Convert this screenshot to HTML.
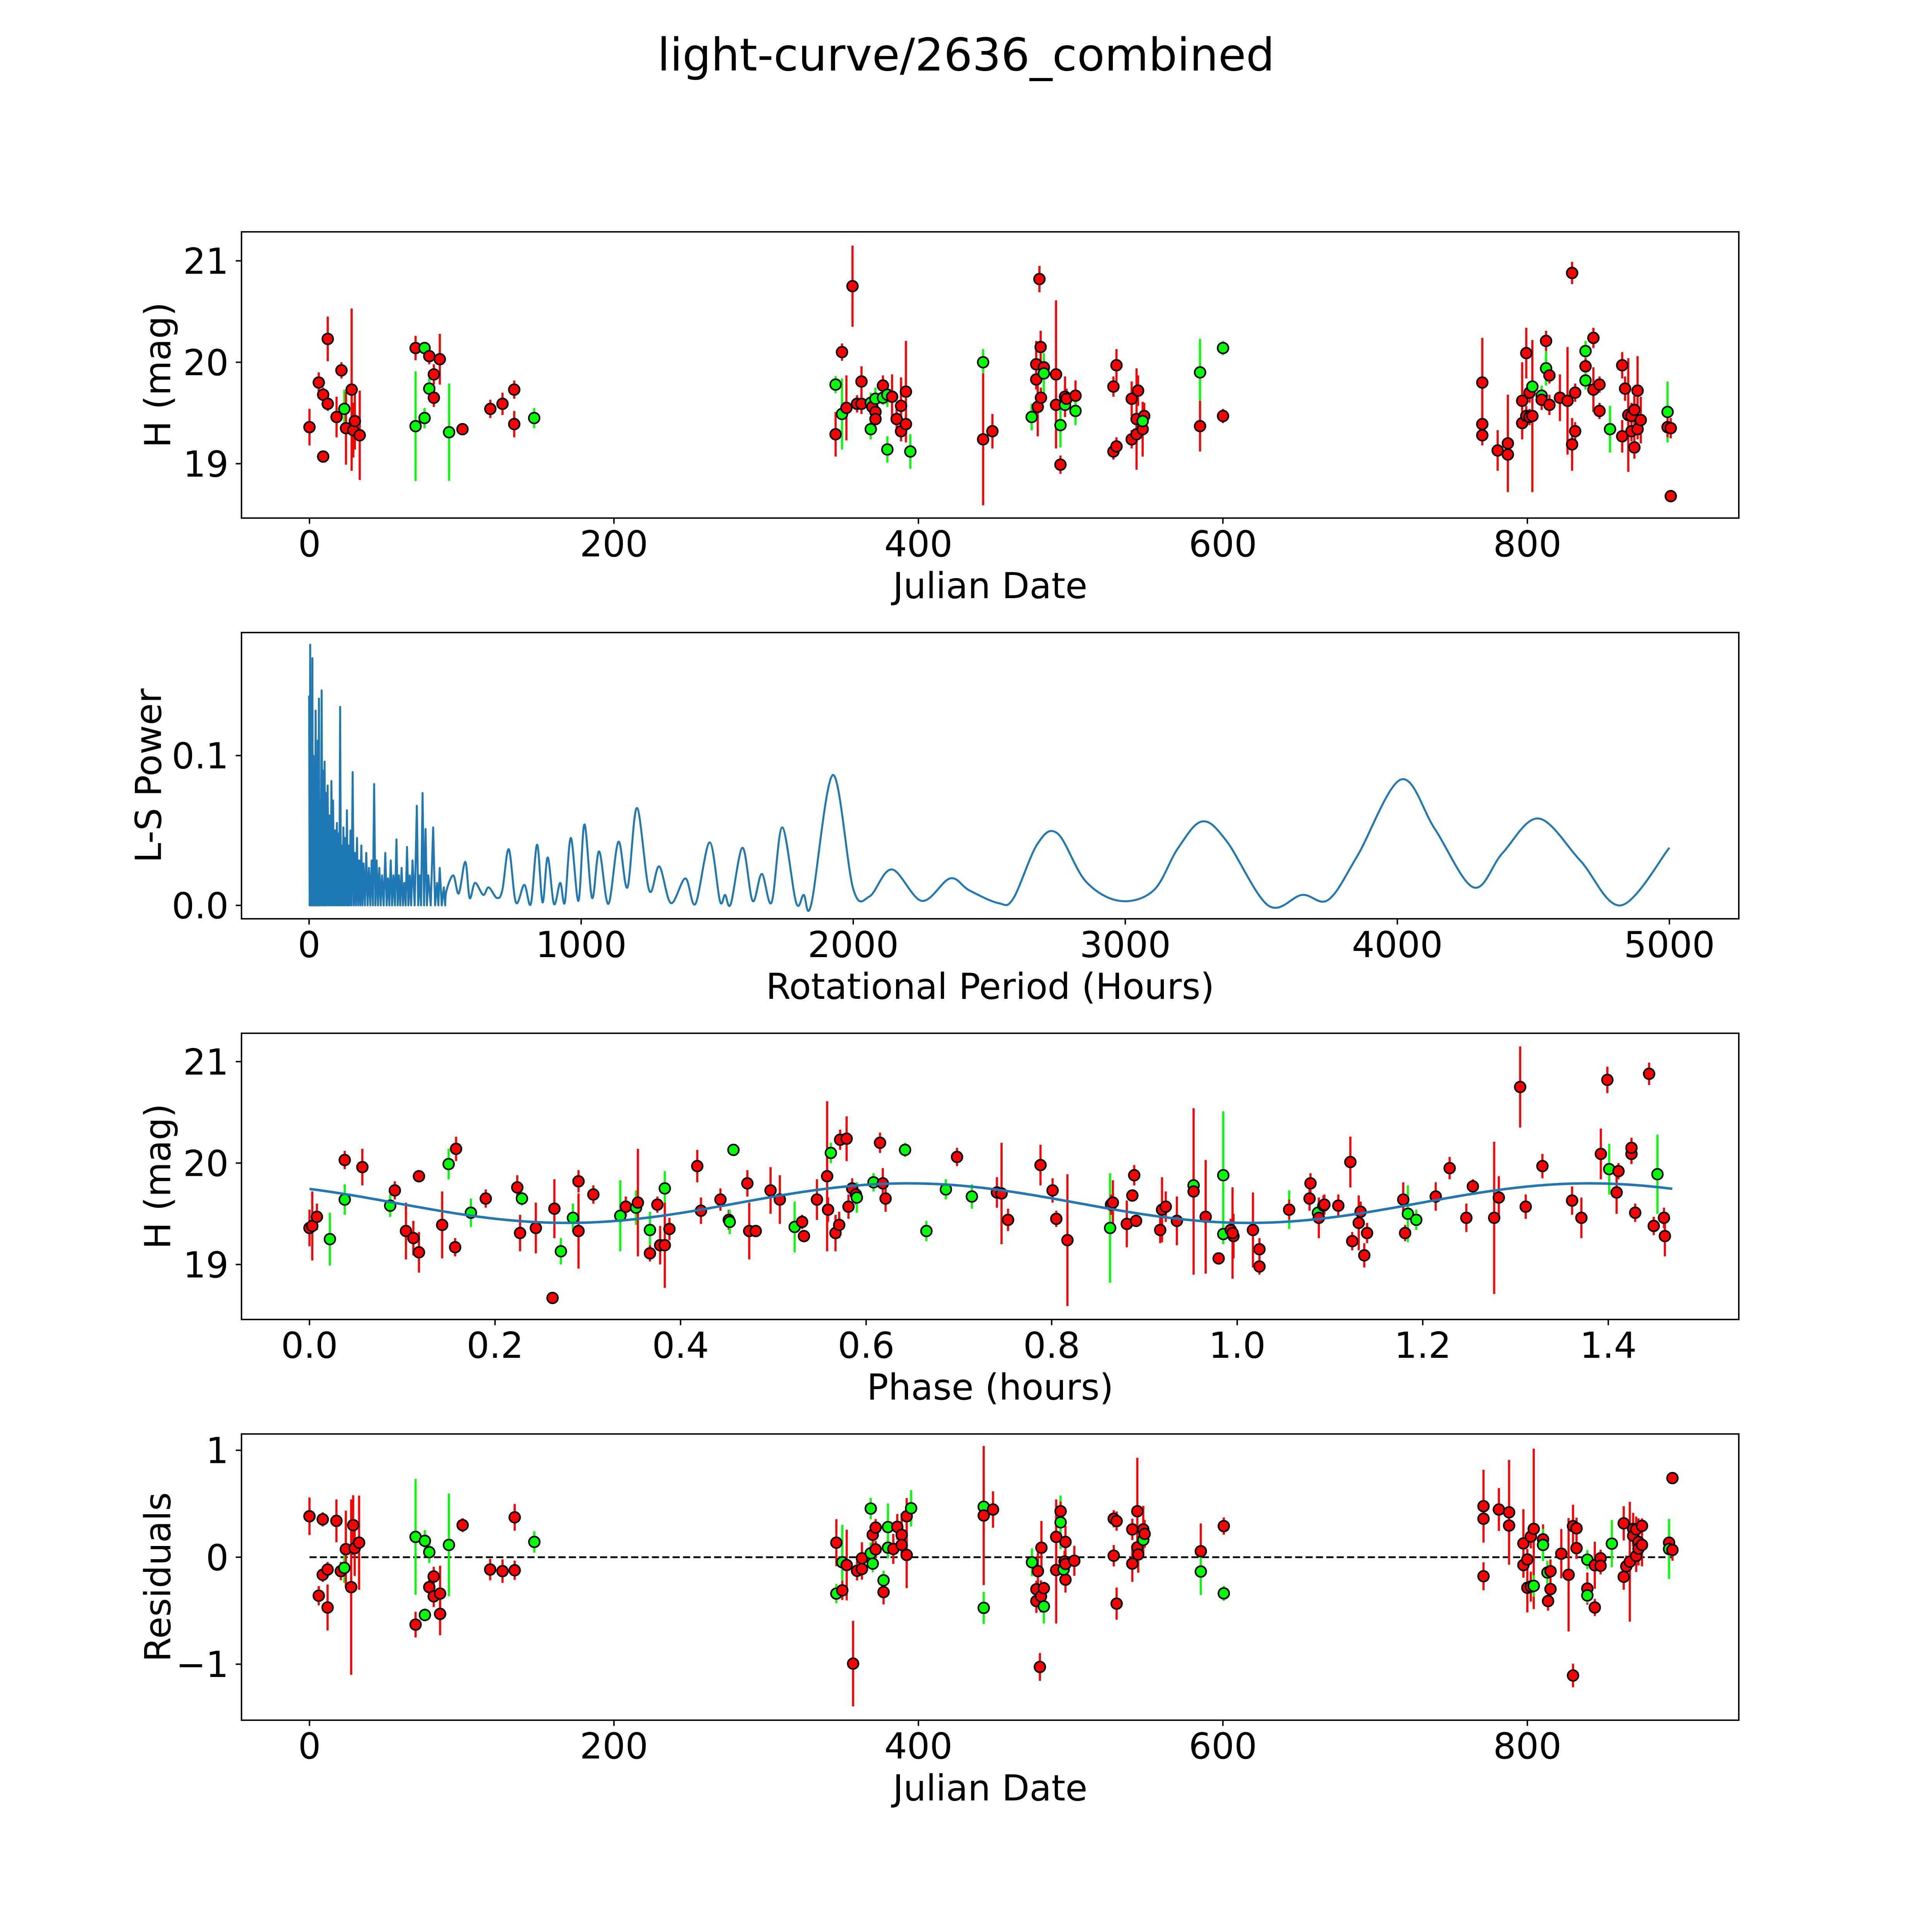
<!DOCTYPE html>
<html><head><meta charset="utf-8"><style>
html,body{margin:0;padding:0;background:#fff;overflow:hidden;width:100%;height:100%;}
svg{display:block;width:100vw;height:100vh;font-family:"DejaVu Sans","Liberation Sans",sans-serif;}
</style></head><body>
<svg id="fig" viewBox="0 0 5400 5400" preserveAspectRatio="none" xmlns="http://www.w3.org/2000/svg">
<rect width="5400" height="5400" fill="#fff"/>
<text x="2700" y="197" font-size="126" text-anchor="middle">light-curve/2636_combined</text>
</svg>
<script>
// ===== Panel 1: light curve (Julian Date vs H mag) =====
const lcDays = [0,6.1,9,9,12,12,17.8,21,22.9,24,27.7,28.8,29.8,33,69.7,69.7,75.6,75.6,78.7,78.7,81.7,81.7,85.6,91.7,100.5,118.8,126.8,134.5,134.5,147.6,
345.6,345.6,349.8,349.8,352.7,356.7,359.7,362.6,362.6,368.7,368.7,369.7,371.8,371.8,371.8,376.7,376.7,379.6,379.6,382.7,385.7,388.6,388.6,391.8,391.8,394.7,
442.5,442.5,448.6,474.4,477.4,477.4,478.4,479.5,480.3,480.5,482.4,482.4,490.4,490.4,493.3,493.3,496.3,496.3,497.3,503.2,503.2,
528.1,528.1,530.1,530.1,540.1,540.1,543.3,543.3,544.3,547.3,548.3,547.3,585,585,600.1,600.1,
770.4,770.4,770.4,780.5,787.2,787.2,796.6,796.6,799.3,799.3,801.4,801.4,803.3,803.3,809.4,809.4,812.3,812.3,814.5,814.5,821.4,826.4,829.4,829.4,831.4,831.4,
838.2,838.2,838.2,843.4,843.4,847.4,847.4,854.3,862.3,862.3,864.2,866.3,868.4,868.4,870.3,870.3,872.4,872.4,874.5,892.1,892.1,894.2,894.2];
const lcMag = [19.36,19.80,19.07,19.68,20.23,19.59,19.46,19.92,19.54,19.35,19.73,19.33,19.42,19.28,20.14,19.37,20.14,19.45,20.06,19.74,19.88,19.65,20.03,19.31,19.34,19.54,19.59,19.73,19.39,19.45,
19.78,19.29,20.10,19.49,19.55,20.75,19.59,19.81,19.59,19.60,19.34,19.56,19.51,19.64,19.44,19.77,19.65,19.68,19.14,19.66,19.44,19.57,19.32,19.71,19.39,19.12,
20.00,19.24,19.32,19.46,19.98,19.83,19.56,20.82,20.15,19.65,19.95,19.89,19.88,19.58,19.38,18.99,19.58,19.66,19.64,19.67,19.52,
19.76,19.12,19.97,19.17,19.64,19.24,19.44,19.29,19.72,19.34,19.47,19.42,19.90,19.37,20.14,19.47,
19.80,19.39,19.28,19.13,19.20,19.09,19.62,19.40,20.09,19.47,19.70,19.46,19.76,19.47,19.67,19.63,20.21,19.94,19.87,19.58,19.65,19.62,20.88,19.19,19.70,19.32,
20.11,19.96,19.82,20.24,19.73,19.78,19.52,19.34,19.97,19.27,19.74,19.48,19.47,19.32,19.53,19.16,19.72,19.34,19.43,19.51,19.36,19.35,18.68];
const lcErr = [.18,.10,.06,.07,.22,.07,.2,.08,.19,.36,.8,.27,.28,.44,.12,.54,.06,.1,.08,.1,.1,.09,.25,.48,.06,.09,.11,.09,.13,.1,
.085,.22,.085,.35,.32,.4,.085,.15,.1,.1,.1,.1,.1,.11,.06,.1,.07,.12,.13,.22,.1,.28,.1,.5,.1,.17,
.13,.65,.17,.13,.23,.1,.29,.13,.16,.1,.1,.2,.73,.1,.22,.09,.1,.2,.1,.15,.14,
.1,.08,.16,.09,.17,.09,.5,.1,.15,.27,.13,.1,.33,.25,.07,.07,
.44,.1,.1,.2,.48,.1,.38,.1,.25,.1,.1,.08,.08,.75,.1,.1,.1,.17,.08,.1,.23,.53,.11,.26,.09,.09,
.1,.08,.09,.1,.22,.08,.08,.23,.13,.16,.12,.56,.13,.1,.14,.11,.34,.1,.23,.3,.1,.1,.05];
const lcColor = ['r','r','r','r','r','r','r','r','g','r','r','r','r','r','r','g','g','g','r','g','r','r','r','g','r','r','r','r','r','g',
'g','r','r','g','r','r','r','r','r','g','g','r','r','g','r','r','g','g','g','r','r','r','r','r','r','g',
'g','r','r','g','r','r','r','r','r','r','r','g','r','r','g','r','g','r','r','r','g',
'r','r','r','r','r','r','r','r','r','r','r','g','g','r','g','r',
'r','r','r','r','r','r','r','r','r','r','r','r','g','r','g','r','r','g','r','r','r','r','r','r','r','r',
'g','r','g','r','r','r','r','g','r','r','r','r','r','r','r','r','r','r','r','g','r','r','r'];

// ===== Panel 2: Lomb-Scargle periodogram =====
const lsDensePeriod = [0,4,8,12,16,20,24,28,32,36,40,46,52,57,62,68,75,82,88,95,102,108,114,120,126,132,139,145,152,160,168,176,184,192,200,210,220,230,239,248,258,268,280,290,300,310,321,330,340,350,360,370,380,396,406,417,428,438,456,470,480,495];
const lsDensePower = [.14,.174,.12,.165,.10,.09,.13,.08,.11,.138,.07,.1435,.09,.096,.075,.08,.06,.083,.07,.05,.055,.048,.1325,.04,.052,.045,.0635,.04,.05,.089,.035,.045,.03,.04,.028,.035,.025,.03,.081,.03,.025,.02,.035,.018,.03,.02,.044,.02,.025,.015,.039,.02,.03,.0665,.02,.075,.051,.02,.052,.015,.025,.012];
const lsSmoothPeriod = [505,530,550,574,590,610,640,660,690,710,734,760,791,815,838,858,877,900,923,940,962,990,1012,1040,1066,1100,1137,1170,1205,1250,1287,1330,1383,1420,1472,1510,1529,1550,1593,1630,1664,1700,1739,1790,1818,1846,1925,2000,2060,2142,2252,2356,2427,2534,2588,2677,2751,2855,2980,3104,3193,3282,3372,3525,3650,3746,3853,4013,4138,4280,4387,4519,4672,4822,5000];
const lsSmoothPower = [.01,.02,.008,.029,.005,.015,.007,.012,.005,.01,.0375,.002,.0137,.001,.0405,.002,.032,.001,.015,.002,.045,.003,.054,.005,.036,.001,.0425,.012,.065,.01,.026,.0015,.018,.001,.042,.003,.007,.001,.0385,.003,.021,.002,.052,.002,.007,.001,.087,.011,.006,.024,.003,.018,.01,.0015,.0045,.041,.048,.016,.003,.01,.038,.056,.043,0,.007,.0037,.033,.084,.051,.012,.035,.058,.03,0,.0385];

// ===== Panel 3: phased curve =====
const phPhase = [0,.003,.008,.022,.038,.038,.057,.087,.092,.104,.112,.118,.118,.143,.150,.157,.158,.174,.190,.224,.227,.229,.244,.262,.264,.271,.284,.290,.290,.306,.335,.341,.352,.354,.367,.367,.375,.378,.383,.383,.388,.418,.422,.443,.452,.453,.457,.472,.474,.481,.497,.507,.523,.531,.533,.547,.558,.559,.562,.567,.571,.572,.579,.581,.585,.589,.590,.608,.615,.618,.621,.642,.665,.686,.698,.714,.741,
.746,.753,.788,.801,.805,.817,.863,.864,.866,.881,.887,.889,.891,.917,.919,.923,.935,.953,.953,.966,.980,.985,.985,.993,.996,.995,1.017,1.024,1.024,1.056,1.056,1.078,1.079,1.087,1.088,1.093,1.094,1.109,1.122,1.124,1.131,1.133,1.137,1.140,1.179,1.181,1.184,1.193,1.214,1.229,1.247,1.254,1.277,1.282,1.305,1.311,1.329,1.361,1.371,1.392,1.401,1.399,1.409,1.411,1.425,1.425,1.429,1.444,1.449,1.453,1.460,1.461];
const phMag = [19.36,19.38,19.47,19.25,19.64,20.03,19.96,19.58,19.73,19.33,19.26,19.12,19.87,19.39,19.99,19.17,20.14,19.51,19.65,19.76,19.31,19.65,19.36,18.67,19.55,19.13,19.46,19.82,19.33,19.69,19.48,19.57,19.56,19.61,19.34,19.11,19.59,19.19,19.75,19.19,19.35,19.97,19.53,19.64,19.44,19.42,20.13,19.80,19.33,19.33,19.73,19.64,19.37,19.42,19.28,19.64,19.87,19.54,20.10,19.31,19.39,20.23,20.24,19.57,19.75,19.69,19.66,19.81,20.20,19.80,19.65,20.13,19.33,19.74,20.06,19.67,19.71,
19.70,19.44,19.98,19.73,19.45,19.24,19.36,19.59,19.61,19.40,19.68,19.88,19.43,19.34,19.54,19.57,19.43,19.78,19.72,19.47,19.06,19.88,19.30,19.34,19.28,19.31,19.34,19.15,18.98,19.54,19.54,19.65,19.80,19.51,19.46,19.58,19.59,19.58,20.01,19.23,19.41,19.52,19.09,19.31,19.64,19.31,19.50,19.44,19.67,19.95,19.46,19.77,19.46,19.66,20.75,19.57,19.97,19.63,19.46,20.09,19.94,20.82,19.71,19.92,20.09,20.15,19.51,20.88,19.38,19.89,19.46,19.28];
const phErr = [.18,.34,.13,.26,.15,.09,.18,.11,.09,.28,.17,.2,.06,.33,.15,.09,.12,.14,.09,.12,.18,.07,.25,.05,.29,.13,.14,.11,.37,.09,.35,.1,.17,.53,.18,.08,.08,.19,.17,.42,.11,.16,.13,.11,.1,.12,.06,.13,.28,.06,.23,.24,.25,.07,.06,.2,.74,.12,.1,.18,.13,.1,.22,.12,.1,.1,.15,.09,.1,.15,.13,.07,.1,.1,.09,.12,.15,
.5,.11,.2,.12,.08,.65,.54,.1,.22,.23,.06,.1,.06,.13,.32,.15,.24,.09,.82,.56,.06,.63,.1,.11,.22,.45,.37,.11,.08,.19,.1,.12,.1,.09,.2,.1,.1,.11,.25,.09,.27,.1,.12,.1,.17,.08,.28,.1,.14,.11,.14,.07,.75,.21,.4,.12,.12,.14,.2,.25,.25,.13,.21,.08,.1,.1,.09,.11,.09,.39,.1,.2];
const phColor = ['r','r','r','g','g','r','r','g','r','r','r','r','r','r','g','r','r','g','r','r','r','g','r','r','r','g','g','r','r','r','g','r','g','r','g','r','r','r','g','r','r','r','r','r','r','g','g','r','r','r','r','r','g','r','r','r','r','r','g','r','r','r','r','r','r','r','g','g','r','r','r','g','g','g','r','g','r',
'r','r','r','r','r','r','g','r','r','r','r','r','r','r','r','r','r','g','r','r','r','g','g','r','r','r','r','r','r','g','r','r','r','g','r','r','r','r','r','r','r','r','r','r','r','r','g','g','r','r','r','r','r','r','r','r','r','r','r','r','g','r','r','r','r','r','r','r','r','g','r','r'];
// model sinusoid parameters (fit)
const fitMean = [19.605];
const fitAmp = [0.195];
const fitPeak = [0.645];
const fitPeriod = [0.735];
const fitRange = [0, 1.469];

// ===== Panel 4: residuals =====
const resDays = [0,6.1,8.7,8.7,11.9,11.9,17.7,20.6,22.9,23.9,27.4,28.7,29.7,32.6,69.7,69.7,75.8,75.8,78.7,78.7,81.6,81.6,85.8,85.8,91.6,100.6,118.7,126.8,134.8,134.8,147.7,
346.1,346.1,350,350,352.9,357.1,359.7,362.9,362.9,368.7,368.7,370,370,371.9,371.9,377.1,377.1,380,380,383.5,386.1,389,389,392.3,392.3,395.2,442.9,442.9,442.9,449,
474.6,477.5,477.5,478.5,479.8,480.5,480.8,482.4,482.4,490.5,490.5,493.4,493.4,496.6,496.6,496,495.4,496.6,502.4,528.3,528.3,530.2,530.2,540.5,540.5,543.8,543.8,544.4,547.7,547.7,548.6,585.5,585.5,600.6,600.6,
771.2,771.2,771.2,781.3,788,788,797.4,797.4,800,800,802.3,802.3,804.2,804.2,810.3,810.3,813.2,813.6,815.2,815.2,822.3,827.1,830,830,832.3,832.3,839.4,839.4,839.4,844.3,844.3,848.1,848.1,855.5,863.3,863.3,865,867.3,869.5,869.5,871.5,871.5,873,873,875.3,875.3,893.1,893.1,895.3,895.3];
const resVal = [.383,-.36,.354,-.164,-.115,-.47,.34,-.13,-.1,.075,-.28,.30,.085,.136,.19,-.63,.153,-.54,.047,-.28,-.18,-.366,-.34,-.53,.115,.30,-.115,-.13,-.122,.373,.143,
.136,-.34,-.047,-.31,-.073,-.995,-.127,-.01,-.11,.455,.037,-.06,.21,.277,.073,-.216,-.326,.282,.089,.077,.284,.209,.115,.383,.021,.458,.472,.39,-.474,.446,
-.047,-.30,-.41,-.13,-1.026,-.366,.089,-.46,-.29,.19,-.12,.326,.43,.143,-.21,-.04,-.115,-.063,-.033,.36,.014,.338,-.434,.26,-.06,.43,.092,.026,.26,.162,.218,.056,-.134,.291,-.338,
.477,.36,-.178,.446,.42,.296,.129,-.073,-.021,-.286,.193,-.275,.265,-.268,.167,.115,-.143,-.41,-.131,-.298,.033,-.164,.291,-1.106,.27,.085,-.023,-.293,-.357,-.075,-.47,-.01,-.08,.127,.317,-.183,-.085,-.042,.265,.2,.012,.26,.143,.08,.293,.115,.136,.077,.068,.74];
const resErr = [.175,.09,.066,.067,.07,.215,.2,.085,.14,.36,.82,.28,.26,.44,.54,.12,.1,.06,.1,.09,.09,.1,.26,.2,.48,.065,.1,.11,.09,.125,.1,
.22,.09,.35,.09,.33,.4,.09,.15,.1,.1,.1,.08,.1,.08,.08,.09,.115,.22,.1,.14,.12,.2,.1,.17,.31,.17,.26,.65,.15,.17,
.13,.08,.11,.2,.13,.15,.25,.16,.06,.35,.5,.25,.09,.15,.12,.1,.1,.1,.14,.08,.1,.09,.15,.1,.17,.5,.1,.17,.22,.05,.13,.26,.22,.08,.07,
.34,.1,.13,.2,.49,.1,.32,.1,.1,.23,.11,.14,.75,.1,.14,.15,.11,.09,.11,.08,.23,.53,.2,.11,.1,.1,.09,.15,.07,.22,.08,.08,.08,.22,.16,.12,.1,.56,.15,.1,.15,.12,.22,.1,.07,.2,.17,.28,.1,.05];
const resColor = ['r','r','r','r','r','r','r','r','g','r','r','r','r','r','g','r','g','g','g','r','r','r','r','r','g','r','r','r','r','r','g',
'r','g','g','r','r','r','r','r','r','g','g','g','r','r','r','g','r','g','g','r','r','r','r','r','r','g','g','r','g','r',
'g','r','r','r','r','r','r','g','r','r','r','g','r','r','r','r','g','r','r','r','r','r','r','r','r','r','r','r','r','g','r','r','g','r','g',
'r','r','r','r','r','r','r','r','r','r','r','r','r','g','r','g','g','r','r','r','r','r','r','r','r','r','g','r','g','r','r','r','r','g','r','r','r','r','r','r','r','r','r','r','r','r','r','g','r','r'];

// ===== Layout & axes =====
const NS = 'http://www.w3.org/2000/svg';
const svg = document.getElementById('fig');
const AX_L = 675, AX_R = 4860, AX_H = 800;
const TOPS = [648, 1768, 2888, 4008];
const COL = {r:'#ff0000', g:'#00ff00'};

function mk(tag, attrs, parent) {
  const el = document.createElementNS(NS, tag);
  for (const k in attrs) el.setAttribute(k, attrs[k]);
  (parent || svg).appendChild(el);
  return el;
}
function lin(d0, d1, p0, p1) { return v => p0 + (v - d0) * (p1 - p0) / (d1 - d0); }

function axes(i, name, xs, ys, xticks, xlabels, yticks, ylabels, xtitle, ytitle, ytitleX) {
  const top = TOPS[i], bot = top + AX_H;
  const g = mk('g', {});
  
  
  xticks.forEach((t, k) => {
    const x = xs(t);
    const tk = mk('line', {x1:x, x2:x, y1:bot, y2:bot+16, stroke:'#000', 'stroke-width':4}, g);
    
    
    const tl = mk('text', {x:x, y:bot+107, 'font-size':100, 'text-anchor':'middle'}, g);
    tl.textContent = xlabels[k];
    
    
  });
  yticks.forEach((t, k) => {
    const y = ys(t);
    const tk = mk('line', {x1:AX_L-16, x2:AX_L, y1:y, y2:y, stroke:'#000', 'stroke-width':4}, g);
    
    
    const tl = mk('text', {x:639, y:y+36, 'font-size':100, 'text-anchor':'end'}, g);
    tl.textContent = ylabels[k];
    
    
  });
  const xt = mk('text', {x:(AX_L+AX_R)/2, y:bot+224, 'font-size':100, 'text-anchor':'middle'}, g);
  xt.textContent = xtitle;
  
  
  const cy = top + AX_H/2;
  const yt = mk('text', {x:ytitleX, y:cy, 'font-size':100, 'text-anchor':'middle', transform:'rotate(-90 '+ytitleX+' '+cy+')'}, g);
  yt.textContent = ytitle;
  
  
  return g;
}
function frame(i, name) {
  const r = mk('rect', {x:AX_L, y:TOPS[i], width:AX_R-AX_L, height:AX_H, fill:'none', stroke:'#000', 'stroke-width':4});
  
  
}
function clip(i, id) {
  const cp = mk('clipPath', {id:id});
  mk('rect', {x:AX_L, y:TOPS[i], width:AX_R-AX_L, height:AX_H}, cp);
}
function errPoints(name, xsArr, ysArr, errArr, colArr, xs, ys, clipId) {
  const g = mk('g', {'clip-path':'url(#'+clipId+')'});
  
  
  for (let k = 0; k < xsArr.length; k++) {
    const x = xs(xsArr[k]);
    const bar = mk('line', {x1:x, x2:x, y1:ys(ysArr[k]-errArr[k]), y2:ys(ysArr[k]+errArr[k]), stroke:COL[colArr[k]], 'stroke-width':6}, g);
    
    
  }
  for (let k = 0; k < xsArr.length; k++) {
    const m = mk('circle', {cx:xs(xsArr[k]), cy:ys(ysArr[k]), r:15, fill:COL[colArr[k]], stroke:'#000', 'stroke-width':4.5}, g);
    
    
  }
}

// Panel 1
const x1 = lin(0, 200, 865, 1716);
const y1 = lin(21, 19, 729, 1296);
clip(0, 'c1');
axes(0, 'light-curve', x1, y1, [0,200,400,600,800], ['0','200','400','600','800'], [21,20,19], ['21','20','19'], 'Julian Date', 'H (mag)', 476);
errPoints('light-curve', lcDays, lcMag, lcErr, lcColor, x1, y1, 'c1');
frame(0, 'light-curve');

// Panel 2
const x2 = lin(0, 5000, 864, 4666);
const y2 = lin(0, 0.1, 2530.6, 2111.8);
clip(1, 'c2');
axes(1, 'periodogram', x2, y2, [0,1000,2000,3000,4000,5000], ['0','1000','2000','3000','4000','5000'], [0,0.1], ['0.0','0.1'], 'Rotational Period (Hours)', 'L-S Power', 450);
(function(){
  let pts = [];
  for (let k = 0; k < lsDensePeriod.length; k++) {
    pts.push([x2(lsDensePeriod[k]), y2(lsDensePower[k])]);
    const nxt = k+1 < lsDensePeriod.length ? lsDensePeriod[k+1] : lsSmoothPeriod[0];
    pts.push([x2((lsDensePeriod[k]+nxt)/2), y2(0)]);
  }
  let d = 'M' + pts.map(p => p[0].toFixed(1)+','+p[1].toFixed(1)).join(' L');
  const sp = lsSmoothPeriod.map((p,k) => [x2(p), y2(lsSmoothPower[k])]);
  const all = [pts[pts.length-1]].concat(sp);
  for (let k = 0; k < all.length-1; k++) {
    const p0 = all[Math.max(k-1,0)], p1 = all[k], p2 = all[k+1], p3 = all[Math.min(k+2, all.length-1)];
    const c1x = p1[0] + (p2[0]-p0[0])/6, c1y = p1[1] + (p2[1]-p0[1])/6;
    const c2x = p2[0] - (p3[0]-p1[0])/6, c2y = p2[1] - (p3[1]-p1[1])/6;
    d += ' C' + c1x.toFixed(1)+','+c1y.toFixed(1)+' '+c2x.toFixed(1)+','+c2y.toFixed(1)+' '+p2[0].toFixed(1)+','+p2[1].toFixed(1);
  }
  const path = mk('path', {d:d, fill:'none', stroke:'#1f77b4', 'stroke-width':5.5, 'stroke-linejoin':'round', 'clip-path':'url(#c2)'});
  
  
})();
frame(1, 'periodogram');

// Panel 3
const x3 = lin(0, 0.2, 865, 1383.6);
const y3 = lin(21, 19, 2967.3, 3534.3);
clip(2, 'c3');
axes(2, 'phase-curve', x3, y3, [0,0.2,0.4,0.6,0.8,1.0,1.2,1.4], ['0.0','0.2','0.4','0.6','0.8','1.0','1.2','1.4'], [21,20,19], ['21','20','19'], 'Phase (hours)', 'H (mag)', 476);
errPoints('phase-curve', phPhase, phMag, phErr, phColor, x3, y3, 'c3');
(function(){
  let d = '';
  const n = 300;
  for (let k = 0; k <= n; k++) {
    const ph = fitRange[0] + (fitRange[1]-fitRange[0]) * k / n;
    const m = fitMean[0] + fitAmp[0] * Math.cos(2*Math.PI*(ph - fitPeak[0]) / fitPeriod[0]);
    d += (k ? ' L' : 'M') + x3(ph).toFixed(1) + ',' + y3(m).toFixed(1);
  }
  const path = mk('path', {d:d, fill:'none', stroke:'#1f77b4', 'stroke-width':7});
  
  
})();
frame(2, 'phase-curve');

// Panel 4
const x4 = lin(0, 200, 865, 1716);
const y4 = lin(0, 1, 4352.5, 4053.6);
clip(3, 'c4');
axes(3, 'residuals', x4, y4, [0,200,400,600,800], ['0','200','400','600','800'], [1,0,-1], ['1','0','\u22121'], 'Julian Date', 'Residuals', 476);
(function(){
  const zl = mk('line', {x1:x4(0), x2:x4(895.3), y1:y4(0), y2:y4(0), stroke:'#000', 'stroke-width':5, 'stroke-dasharray':'20 9'});
  
  
})();
errPoints('residuals', resDays, resVal, resErr, resColor, x4, y4, 'c4');
frame(3, 'residuals');
</script>
</body></html>
